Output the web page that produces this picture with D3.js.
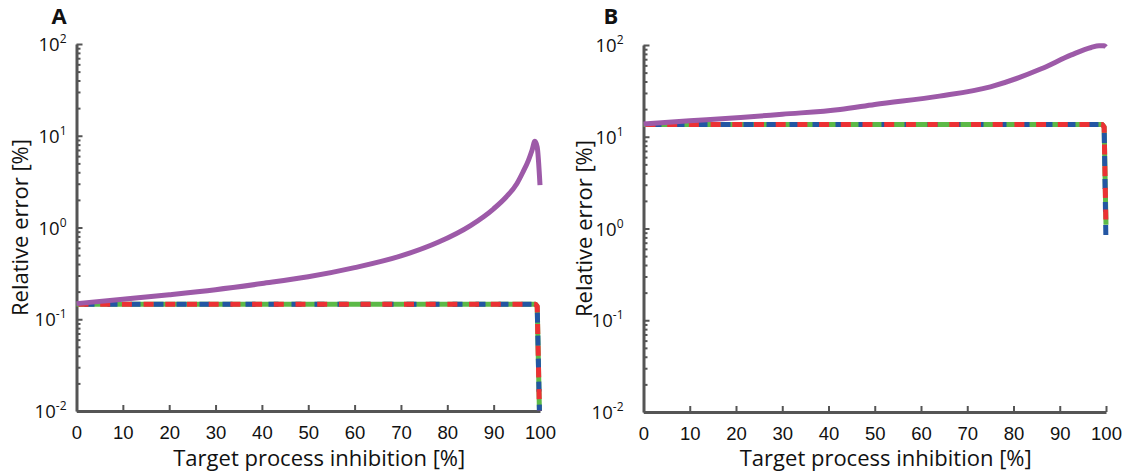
<!DOCTYPE html>
<html>
<head>
<meta charset="utf-8">
<script src="https://cdn.jsdelivr.net/npm/d3@7"></script>
<style>
  body { margin: 0; background: #fff; }
  svg { display: block; font-family: "Open Sans", sans-serif; }
  .axis path, .axis line { stroke: #555; }
  .axis path { stroke-width: 3; }
  .axis line { stroke-width: 2; }
  .tick-label { font-size: 18.5px; fill: #111; }
  .axis-title { font-size: 22px; fill: #111; }
  .panel-letter { font-size: 22px; font-weight: bold; fill: #111; }
</style>
</head>
<body>
<div id="viz"></div>
<script>

// x: target process inhibition [%], y: relative error [%]
const xTicks = [0, 10, 20, 30, 40, 50, 60, 70, 80, 90, 100];
const yDecades = [-2, -1, 0, 1, 2];

// Panel A
const aPurpleX = [0, 10, 20, 30, 40, 50, 60, 70, 78, 85, 90, 92.7, 95, 96.3, 97.5, 98.3, 98.9, 99.4, 100];
const aPurpleY = [0.148, 0.165, 0.185, 0.21, 0.245, 0.29, 0.365, 0.49, 0.69, 1.05, 1.6, 2.15, 3.0, 4.0, 5.4, 7.0, 8.7, 7.5, 2.9];
const aDashX = [0, 50, 99, 99.4, 100];
const aGreenY = [0.146, 0.146, 0.146, 0.138, 0.005];
const aBlueY = [0.146, 0.146, 0.146, 0.138, 0.005];
const aRedY = [0.146, 0.146, 0.146, 0.138, 0.005];

// Panel B
const bPurpleX = [0, 10, 21, 30, 42.5, 50, 64, 75, 86, 92.5, 96.8, 98.5, 99.6, 100];
const bPurpleY = [13.8, 14.9, 16.2, 17.6, 19.8, 22.5, 27.7, 35, 55, 78, 94, 98, 98, 95];
const bDashX = [0, 50, 99.2, 99.6, 100];
const bGreenY = [13.6, 13.6, 13.6, 12.8, 1.1];
const bBlueY = [13.6, 13.6, 13.6, 12.8, 0.65];
const bRedY = [13.6, 13.6, 13.6, 12.8, 1.0];

const colors = {purple: "#9d5aa8", green: "#5cb947", blue: "#2356a3", red: "#ec3134"};

const svg = d3.select("#viz").append("svg")
  .attr("width", 1125).attr("height", 475);

const panels = [
  {letter: "A", left: 76.5, right: 540, top: 44, bottom: 411, labelGap: 10, titleX: 20, letterX: 59,
   purple: [aPurpleX, aPurpleY], dashX: aDashX, green: aGreenY, blue: aBlueY, red: aRedY},
  {letter: "B", left: 643.5, right: 1106, top: 45, bottom: 412, labelGap: 20, titleX: 584, letterX: 611,
   purple: [bPurpleX, bPurpleY], dashX: bDashX, green: bGreenY, blue: bBlueY, red: bRedY}
];

panels.forEach((p, i) => {
  const x = d3.scaleLinear().domain([0, 100]).range([p.left, p.right]);
  const y = d3.scaleLog().domain([0.01, 100]).range([p.bottom, p.top]);
  const g = svg.append("g");

  const clipId = "clip" + i;
  svg.append("clipPath").attr("id", clipId)
    .append("rect")
      .attr("x", p.left - 10).attr("y", p.top - 20)
      .attr("width", p.right - p.left + 20).attr("height", p.bottom - p.top + 20);

  // minor y ticks
  const minors = [];
  yDecades.slice(0, -1).forEach(d => {
    for (let k = 2; k <= 9; k++) minors.push(k * Math.pow(10, d));
  });
  g.append("g").attr("class", "axis")
    .attr("transform", `translate(${p.left},0)`)
    .call(d3.axisRight(y).tickValues(minors).tickSizeInner(4).tickSizeOuter(0).tickFormat(""))
    .select(".domain").remove();

  // major y ticks + spine
  g.append("g").attr("class", "axis")
    .attr("transform", `translate(${p.left},0)`)
    .call(d3.axisRight(y).tickValues(yDecades.map(d => Math.pow(10, d)))
      .tickSizeInner(6).tickSizeOuter(0).tickFormat(""));

  // y tick labels: 10^n
  yDecades.forEach(d => {
    const t = g.append("text").attr("class", "tick-label")
      .attr("x", p.left - p.labelGap).attr("y", y(Math.pow(10, d)) + 7)
      .attr("text-anchor", "end");
    t.append("tspan").text("10");
    t.append("tspan").attr("dy", -8).style("font-size", "12px").text(d);
  });

  // x axis
  const xa = g.append("g").attr("class", "axis")
    .attr("transform", `translate(0,${p.bottom})`)
    .call(d3.axisBottom(x).tickValues(xTicks).tickSizeInner(-6).tickSizeOuter(0).tickPadding(15));
  xa.selectAll("text").attr("class", "tick-label").attr("fill", "#111")
    .style("font-family", "inherit");

  // axis titles
  g.append("text").attr("class", "axis-title")
    .attr("x", (p.left + p.right) / 2 + 11).attr("y", 466)
    .attr("text-anchor", "middle").text("Target process inhibition [%]");
  g.append("text").attr("class", "axis-title")
    .attr("transform", `translate(${p.titleX + 8},${(p.top + p.bottom) / 2}) rotate(-90)`)
    .attr("text-anchor", "middle").text("Relative error [%]");

  g.append("text").attr("class", "panel-letter")
    .attr("x", p.letterX).attr("y", 24).attr("text-anchor", "middle").text(p.letter);

  const lines = g.append("g").attr("clip-path", `url(#${clipId})`);
  const line = d3.line().x(d => x(d[0])).y(d => y(Math.max(d[1], 1e-3)));

  lines.append("path")
    .datum(p.dashX.map((v, j) => [v, p.green[j]]))
    .attr("d", line).attr("fill", "none").attr("stroke", colors.green)
    .attr("stroke-width", 5).attr("stroke-linejoin", "round");
  lines.append("path")
    .datum(p.dashX.map((v, j) => [v, p.blue[j]]))
    .attr("d", line).attr("fill", "none").attr("stroke", colors.blue)
    .attr("stroke-width", 5).attr("stroke-dasharray", "10,13").attr("stroke-dashoffset", -8)
    .attr("stroke-linejoin", "round");
  lines.append("path")
    .datum(p.dashX.map((v, j) => [v, p.red[j]]))
    .attr("d", line).attr("fill", "none").attr("stroke", colors.red)
    .attr("stroke-width", 5).attr("stroke-dasharray", "10,11.7").attr("stroke-dashoffset", -2)
    .attr("stroke-linejoin", "round");

  lines.append("path")
    .datum(p.purple[0].map((v, j) => [v, p.purple[1][j]]))
    .attr("d", line.curve(d3.curveMonotoneX)).attr("fill", "none").attr("stroke", colors.purple)
    .attr("stroke-width", 5).attr("stroke-linejoin", "round");
});

</script>
</body>
</html>
